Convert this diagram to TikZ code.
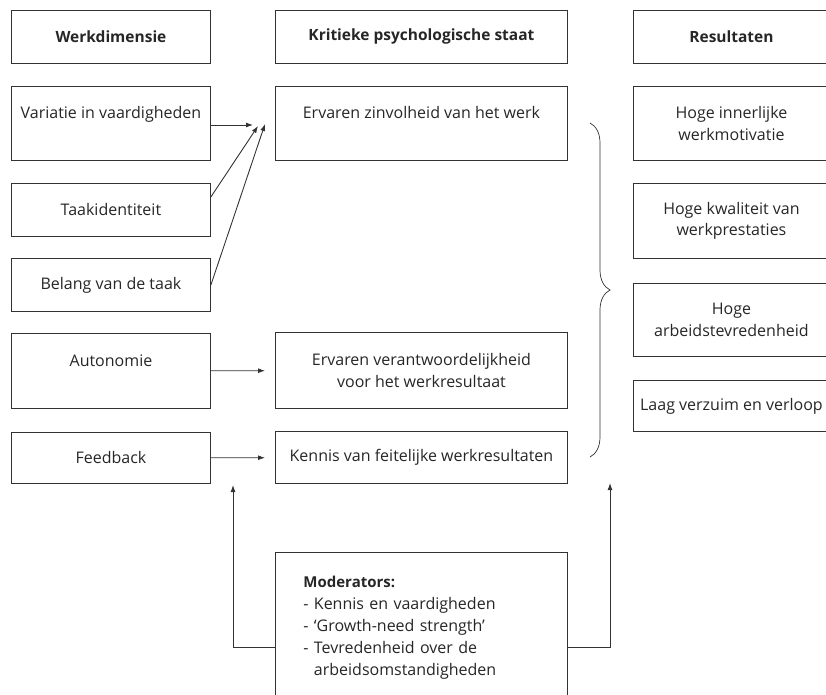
\documentclass[tikz,border=0pt]{standalone}
\usepackage{fontspec}
\setmainfont{Open Sans}
\usetikzlibrary{arrows.meta, calc, decorations.pathreplacing}

\begin{document}
\begin{tikzpicture} [
        x=1pt, y=-1pt,
        box/.style={draw=black!80, line width=0.9pt, anchor=north west, align=center, inner sep=2pt, text=black!85, font=\fontsize{16}{21.5}\selectfont},
        head/.style={box, minimum height=53pt, font=\fontsize{15.5}{18}\selectfont\bfseries},
        col left/.style={minimum width=199pt},
        col mid/.style={minimum width=292pt},
        col right/.style={minimum width=196pt},
        arr/.style={draw=black!80, line width=0.9pt, -{Latex[length=7pt, width=5pt]}},
        brace/.style={draw=black!80, line width=0.7pt, decoration={brace, amplitude=20pt}, decorate}
    ]
    \useasboundingbox (0,0) rectangle (826,695);

    \node[head, col left] (head left) at (11,10) {Werkdimensie};
    \node[head, col mid] (head mid) at (275,10) {Kritieke psychologische staat};
    \node[head, col right] (head right) at (633,10) {Resultaten};

    % werkdimensies
    \foreach \nm/\ytop/\hgt/\txt in {var/86/74/{Variatie in vaardigheden\\\mbox{}}, taak/183/53/Taakidentiteit, belang/258/53/Belang van de taak, auto/333/75/{Autonomie\\\mbox{}}, feed/432/51/Feedback} {
        \node[box, col left, minimum height=\hgt pt] (\nm) at (11,\ytop) {\txt};
    }

    % staten
    \node[box, col mid, minimum height=74pt] (zin) at (275,86) {Ervaren zinvolheid van het werk\\\mbox{}};
    \node[box, col mid, minimum height=76pt] (verantw) at (275,332) {Ervaren verantwoordelijkheid\\voor het werkresultaat};
    \node[box, col mid, minimum height=52pt] (kennis) at (275,431) {Kennis van feitelijke werkresultaten};

    % resultaten
    \foreach \nm/\ytop/\hgt/\txt in {motiv/86/74/{Hoge innerlijke\\werkmotivatie}, kwal/183/75/{Hoge kwaliteit van\\werkprestaties}, tevr/283/73/{Hoge\\arbeidstevredenheid}, verzuim/380/51/Laag verzuim en verloop} {
        \node[box, col right, minimum height=\hgt pt] (\nm) at (633,\ytop) {\txt};
    }

    \node[box, col mid, minimum height=150pt, inner xsep=28pt, text width=236pt, align=left, font=\fontsize{16}{22}\selectfont] (mod) at (275,552) {\textbf{\fontsize{15}{22}\selectfont Moderators:}\\- Kennis en vaardigheden\\- ‘Growth-need strength’\\- Tevredenheid over de\\\hphantom{- }arbeidsomstandigheden};

    \coordinate (tip a) at (253,125);
    \coordinate (tip b) at (258,126);
    \coordinate (tip c) at (265,124);
    \draw[arr] (var.east |- tip a) -- (tip a);
    \draw[arr] ([yshift=13pt]taak.east) -- (tip b);
    \draw[arr] (belang.east) -- (tip c);
    \draw[arr, shorten >=10pt] (auto) -- (verantw);
    \draw[arr, shorten >=10pt] (feed) -- (kennis);

    \coordinate (brace top) at (590,123);
    \coordinate (brace bot) at (590,457);
    \draw[brace] (brace top) -- (brace bot);

    \coordinate (fb in) at (233,485);
    \coordinate (res in) at (610,483);
    \draw[arr] ([yshift=-20pt]mod.west) -| (fb in);
    \draw[arr] ([yshift=-20pt]mod.east) -| (res in);

\end{tikzpicture}
\end{document}
